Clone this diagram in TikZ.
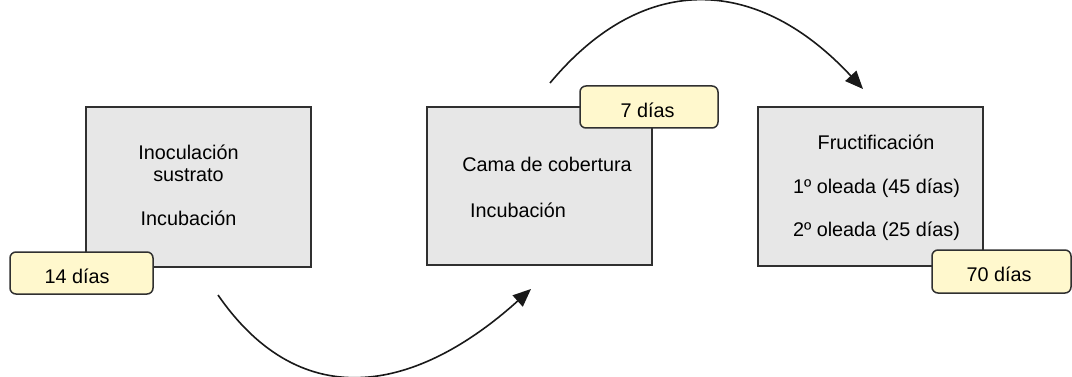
\documentclass[tikz,border=0pt]{standalone}
\usepackage{fontspec}
\setmainfont{Liberation Sans}
\usetikzlibrary{arrows.meta}
\definecolor{boxfill}{HTML}{E7E7E7}
\definecolor{labfill}{HTML}{FFF8CD}
\definecolor{edge}{HTML}{303030}
\tikzset{
  stage/.style={draw=edge, line width=1.5pt, fill=boxfill, rectangle, inner sep=0pt},
  daylab/.style={draw=edge, line width=1.5pt, fill=labfill, rectangle, rounded corners=6pt, inner sep=0pt, font=\fontsize{19.8}{22}\selectfont},
  txt/.style={inner sep=0pt, font=\fontsize{19.8}{22}\selectfont},
  flow/.style={line width=1.6pt, draw=black!90, -{Triangle[length=18pt,width=15pt]}}
}
\begin{document}
\begin{tikzpicture}[x=1pt,y=-1pt]
\useasboundingbox (0,0) rectangle (1072,377);
% boxes
\node[stage, minimum width=225pt, minimum height=160pt] (b1) at (198.5,187) {};
\node[stage, minimum width=225pt, minimum height=158pt] (b2) at (539.5,186) {};
\node[stage, minimum width=225pt, minimum height=159pt] (b3) at (870.5,186.5) {};
% box texts
\node[txt] (t11) at (188.5,152) {Inoculación};
\node[txt] (t12) at (188.5,175) {sustrato};
\node[txt] (t13) at (188.5,218) {Incubación};
\node[txt] (t21) at (547,164) {Cama de cobertura};
\node[txt] (t22) at (518,210) {Incubación};
\node[txt] (t31) at (876,142) {Fructificación};
\node[txt] (t32) at (876.5,188) {1º oleada (45 días)};
\node[txt] (t33) at (876.5,231) {2º oleada (25 días)};
% day labels
\node[daylab, minimum width=143pt, minimum height=42pt] (l1) at (81.5,273) {};
\node[txt] (l1t) at (77,276) {14 días};
\node[daylab, minimum width=138pt, minimum height=42pt] (l2) at (649,107) {};
\node[txt] (l2t) at (647.5,110) {7 días};
\node[daylab, minimum width=139pt, minimum height=43pt] (l3) at (1001.5,271.5) {};
\node[txt] (l3t) at (999,274) {70 días};
% arrows
\coordinate (a1s) at (218,295);
\coordinate (a1e) at (531,289);
\coordinate (a2s) at (550,83);
\coordinate (a2e) at (863,89);
\draw[flow] (a1s) .. controls (303,418) and (419,390) .. (a1e);
\draw[flow] (a2s) .. controls (646,-32) and (760,-22) .. (a2e);
\end{tikzpicture}
\end{document}
